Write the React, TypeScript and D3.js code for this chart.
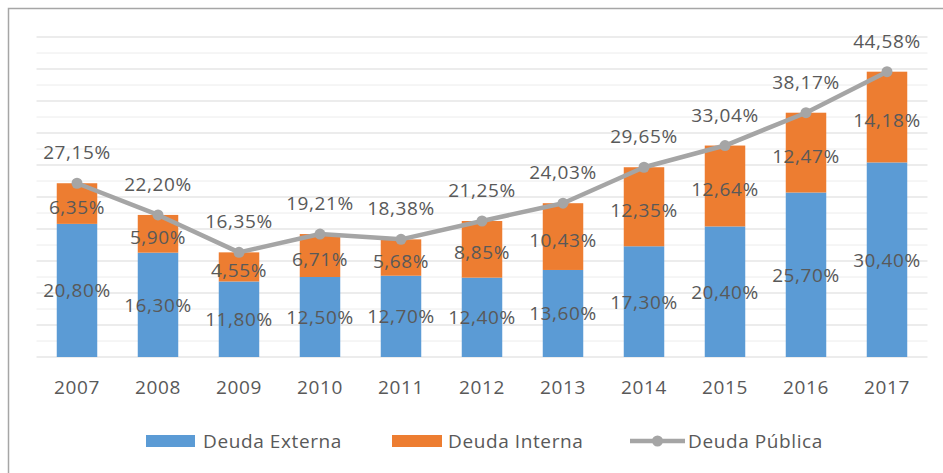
import React from 'react';
import { scaleBand, scaleLinear, line, range } from 'd3';

const years = ['2007', '2008', '2009', '2010', '2011', '2012', '2013', '2014', '2015', '2016', '2017'];
const deudaExterna = [20.8, 16.3, 11.8, 12.5, 12.7, 12.4, 13.6, 17.3, 20.4, 25.7, 30.4];
const deudaInterna = [6.35, 5.9, 4.55, 6.71, 5.68, 8.85, 10.43, 12.35, 12.64, 12.47, 14.18];
const deudaPublica = [27.15, 22.2, 16.35, 19.21, 18.38, 21.25, 24.03, 29.65, 33.04, 38.17, 44.58];
const seriesNames = ['Deuda Externa', 'Deuda Interna', 'Deuda Pública'];

const BLUE = '#5b9bd5';
const ORANGE = '#ed7d31';
const GRAY = '#a5a5a5';
const TEXT = '#595959';
const FONT = '"Open Sans", sans-serif';

const fmt = (v: number) => v.toFixed(2).replace('.', ',') + '%';

export default function App() {
  const width = 943;
  const height = 473;
  const left = 36.5, right = 927.5, top = 37, bottom = 357;

  const x = scaleBand<string>().domain(years).range([left, right]).paddingInner(0.5).paddingOuter(0.25);
  const y = scaleLinear().domain([0, 50]).range([bottom, top]);
  const cx = (yr: string) => (x(yr) as number) + x.bandwidth() / 2;

  const minorTicks = range(2.5, 50, 5);
  const majorTicks = range(5, 50.1, 5);

  const path = line<number>()
    .x((_, i) => cx(years[i]))
    .y((d) => y(d))(deudaPublica);

  const labelStyle = { fontFamily: FONT, fontSize: 19, fill: TEXT, letterSpacing: 0.6 } as const;

  return (
    <svg width={width} height={height} style={{ position: 'absolute', left: 0, top: 0, background: '#fff' }}>
      <rect x={8.5} y={8.5} width={960} height={480} fill="#fff" stroke="#a6a6a6" strokeWidth={1.5} />

      {/* gridlines */}
      {minorTicks.map((t) => (
        <line key={'m' + t} x1={left} x2={right} y1={y(t)} y2={y(t)} stroke="#ececec" />
      ))}
      {majorTicks.map((t) => (
        <line key={'M' + t} x1={left} x2={right} y1={y(t)} y2={y(t)} stroke="#d9d9d9" />
      ))}
      <line x1={left} x2={right} y1={y(0)} y2={y(0)} stroke="#d9d9d9" />

      {/* stacked bars */}
      {years.map((yr, i) => (
        <g key={yr}>
          <rect x={x(yr)} width={x.bandwidth()} y={y(deudaExterna[i])} height={y(0) - y(deudaExterna[i])} fill={BLUE} />
          <rect
            x={x(yr)}
            width={x.bandwidth()}
            y={y(deudaExterna[i] + deudaInterna[i])}
            height={y(deudaExterna[i]) - y(deudaExterna[i] + deudaInterna[i])}
            fill={ORANGE}
          />
        </g>
      ))}

      {/* line series */}
      <path d={path ?? ''} fill="none" stroke={GRAY} strokeWidth={4.5} strokeLinejoin="round" />
      {deudaPublica.map((v, i) => (
        <circle key={i} cx={cx(years[i])} cy={y(v)} r={5.5} fill={GRAY} />
      ))}

      {/* data labels */}
      {years.map((yr, i) => (
        <g key={'l' + yr} textAnchor="middle" dominantBaseline="central" style={labelStyle}>
          <text x={cx(yr)} y={(y(0) + y(deudaExterna[i])) / 2}>{fmt(deudaExterna[i])}</text>
          <text x={cx(yr)} y={(y(deudaExterna[i]) + y(deudaExterna[i] + deudaInterna[i])) / 2 + 3}>{fmt(deudaInterna[i])}</text>
          <text x={cx(yr)} y={y(deudaPublica[i]) - 31}>{fmt(deudaPublica[i])}</text>
        </g>
      ))}

      {/* x axis labels */}
      {years.map((yr) => (
        <text key={'x' + yr} x={cx(yr)} y={387} textAnchor="middle" dominantBaseline="central" style={labelStyle}>
          {yr}
        </text>
      ))}

      {/* legend */}
      <g style={labelStyle} dominantBaseline="central">
        <rect x={146} y={435} width={49} height={12} fill={BLUE} />
        <text x={203} y={441}>{seriesNames[0]}</text>
        <rect x={392} y={435} width={50} height={12} fill={ORANGE} />
        <text x={448} y={441}>{seriesNames[1]}</text>
        <line x1={630} x2={685} y1={441} y2={441} stroke={GRAY} strokeWidth={4.5} />
        <circle cx={657.5} cy={441} r={5.5} fill={GRAY} />
        <text x={688} y={441}>{seriesNames[2]}</text>
      </g>
    </svg>
  );
}
